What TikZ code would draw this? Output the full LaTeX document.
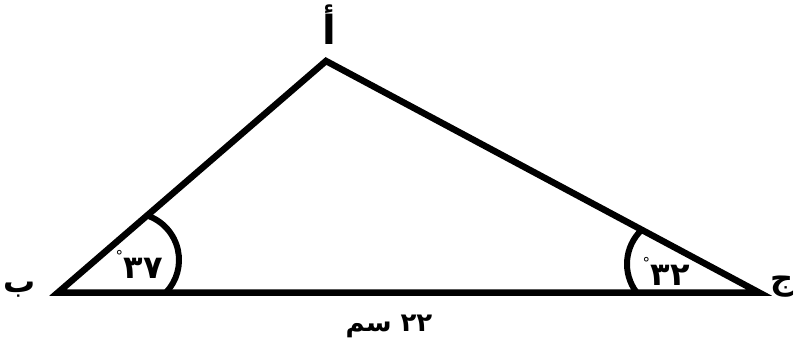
\documentclass[tikz,border=0pt]{standalone}
\usepackage{fontspec}
\newfontfamily\arabicfont[Script=Arabic]{DejaVu Sans}
\TeXXeTstate=1
\begin{document}
\begin{tikzpicture}[x=1pt,y=-1pt,
  side/.style={line width=6.5pt, line join=miter},
  anglearc/.style={line width=6pt},
  lbl/.style={font=\arabicfont\bfseries, inner sep=0pt},
  anglbl/.style={font=\arabicfont\bfseries\fontsize{32}{34}\selectfont, inner sep=0pt}]
\newcommand\degmark{\raisebox{17pt}{\fontsize{15}{15}\selectfont\mdseries °}\hspace{0.5pt}}
\useasboundingbox (0,0) rectangle (795,349);
\coordinate (B) at (58,292.5);
\coordinate (A) at (326,61);
\coordinate (C) at (759,292.5);
\draw[side] (B) -- (A) -- (C) -- cycle;
\coordinate (oB) at (132,260);
\coordinate (oC) at (674,264);
\draw[anglearc] (oB) ++(72:47pt) arc[start angle=72, end angle=-43, radius=47pt];
\draw[anglearc] (oC) ++(134:47pt) arc[start angle=134, end angle=217, radius=47pt];
\node[lbl, font=\arabicfont\bfseries\fontsize{40}{42}\selectfont] (la) at (329,25) {\beginR أ\endR};
\node[lbl, font=\arabicfont\bfseries\fontsize{32}{34}\selectfont] (lb) at (20,290) {\beginR ب\endR};
\node[lbl, font=\arabicfont\bfseries\fontsize{32}{34}\selectfont] (lc) at (782,287) {\beginR ج\endR};
\node[lbl, font=\arabicfont\bfseries\fontsize{26}{28}\selectfont] (lbase) at (389,326) {\beginR ٢٢ سم\endR};
\node[anglbl, anchor=base east] (ab) at (163,278) {\degmark\mbox{٣٧}};
\node[anglbl, anchor=base east] (ac) at (690,285) {\degmark\mbox{٣٢}};
\end{tikzpicture}
\end{document}
